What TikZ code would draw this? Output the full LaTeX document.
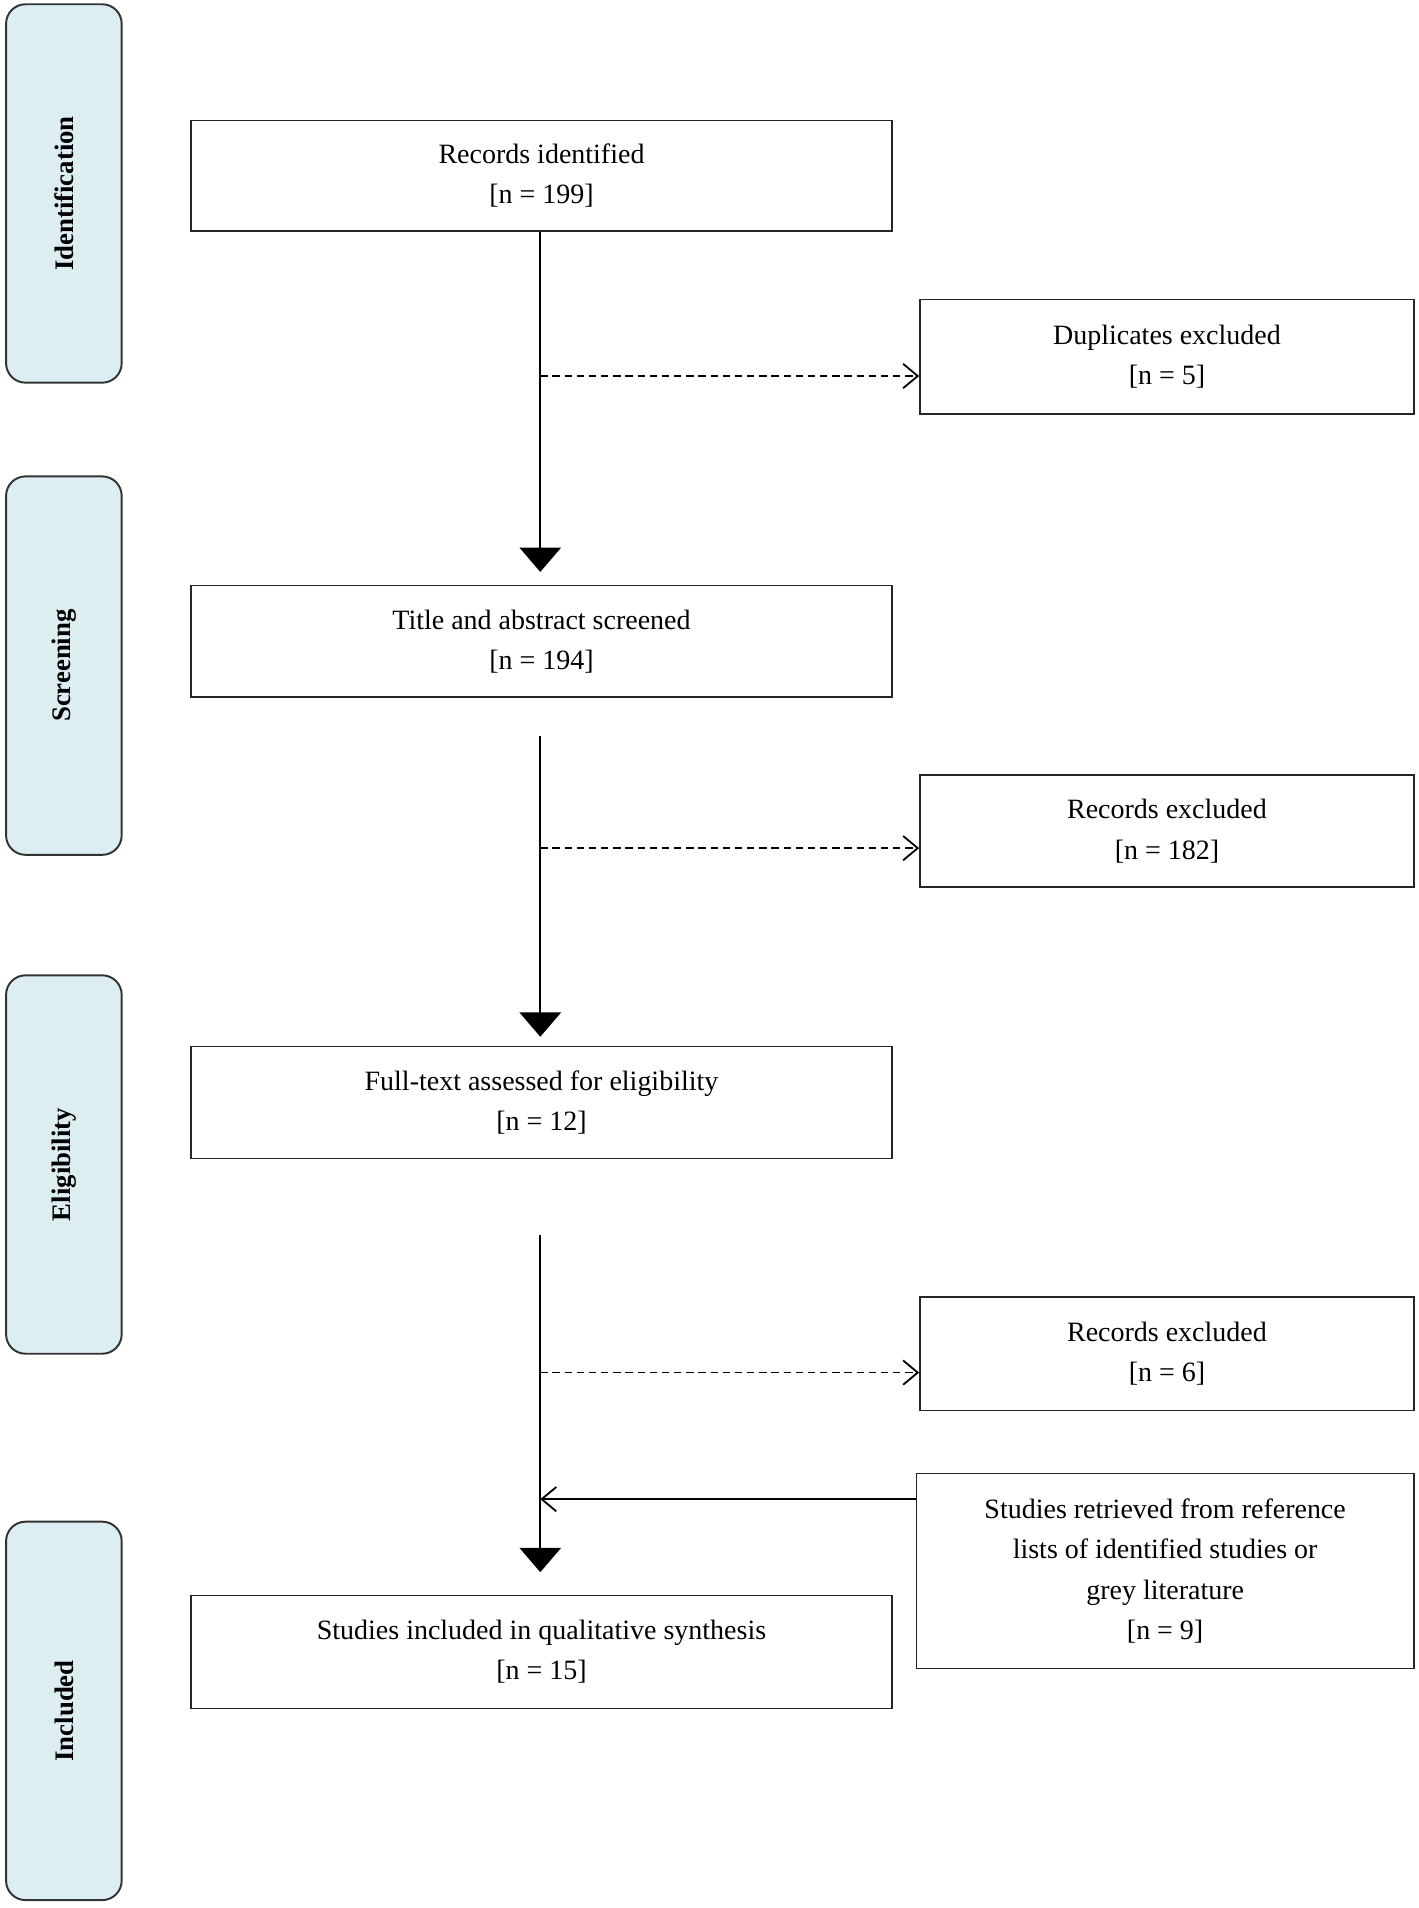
\documentclass[tikz,border=0pt]{standalone}
\usepackage{fontspec}
\setmainfont{Liberation Serif}
\usetikzlibrary{arrows.meta}
\begin{document}
\begin{tikzpicture}[x=1pt,y=-1pt,
  box/.style={draw=black!85,line width=1.3pt,align=center,inner sep=0pt,font=\fontsize{23}{33}\selectfont},
  side/.style={draw=black!80,line width=1.6pt,rounded corners=16pt,minimum width=95pt,minimum height=311pt,inner sep=0pt},
  sidetxt/.style={rotate=90,font=\fontsize{22}{26}\selectfont\bfseries},
  big/.style={line width=1.5pt,-{Triangle[width=34pt,length=20pt]}},
  dasharr/.style={line width=1.3pt,dash pattern=on 6pt off 4pt,-{Straight Barb[width=20pt,length=12pt,line width=1.5pt]}},
  openarr/.style={line width=1.5pt,-{Straight Barb[width=20pt,length=12pt,line width=1.5pt]}}]
\useasboundingbox (0,0) rectangle (1166,1568);
\definecolor{sb}{RGB}{221,238,243}
\foreach \n/\t/\y in {s1/Identification/159,s2/Screening/547,s3/Eligibility/957,s4/Included/1406}{
  \node[side,fill=sb] (\n) at (52.5,\y) {};
  \node[sidetxt] at (\n) {\t};}
\node[box,minimum width=576pt,minimum height=91pt] (rec) at (445,144.5) {Records identified\\{}[n = 199]};
\node[box,minimum width=406pt,minimum height=94pt] (dup) at (959,293) {Duplicates excluded\\{}[n = 5]};
\node[box,minimum width=576pt,minimum height=92pt] (tit) at (445,527) {Title and abstract screened\\{}[n = 194]};
\node[box,minimum width=406pt,minimum height=92pt] (ex1) at (959,683) {Records excluded\\{}[n = 182]};
\node[box,minimum width=576pt,minimum height=92pt] (ful) at (445,906) {Full-text assessed for eligibility\\{}[n = 12]};
\node[box,minimum width=406pt,minimum height=93pt] (ex2) at (959,1112.5) {Records excluded\\{}[n = 6]};
\node[box,minimum width=409pt,minimum height=160pt] (ret) at (957.5,1291) {Studies retrieved from reference\\lists of identified studies or\\grey literature\\{}[n = 9]};
\node[box,minimum width=576pt,minimum height=93pt] (inc) at (445,1357.5) {Studies included in qualitative synthesis\\{}[n = 15]};
\coordinate (a1) at (444,309);
\coordinate (b0) at (444,605);
\coordinate (a2) at (444,697);
\coordinate (c0) at (444,1015);
\coordinate (a3) at (444,1128);
\coordinate (a4) at (444,1232);
\draw[big] (rec.south -| a1) -- (444,470);
\draw[big] (b0) -- (444,852);
\draw[big] (c0) -- (444,1292);
\draw[dasharr] (a1) -- (dup.west |- a1);
\draw[dasharr] (a2) -- (ex1.west |- a2);
\draw[dasharr] (a3) -- (ex2.west |- a3);
\draw[openarr] (ret.west |- a4) -- (a4);
\end{tikzpicture}
\end{document}
